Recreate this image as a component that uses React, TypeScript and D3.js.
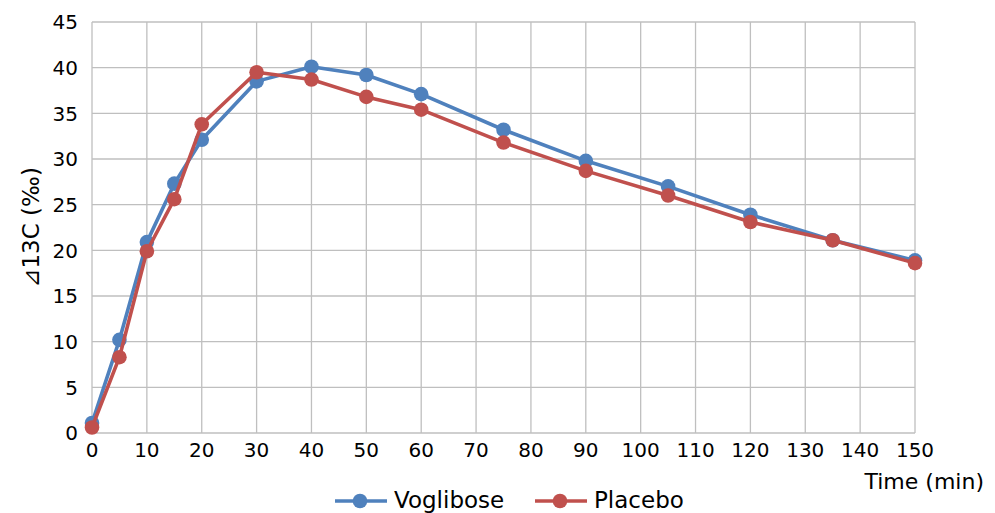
import React from 'react';
import * as d3 from 'd3';

const times = [0, 5, 10, 15, 20, 30, 40, 50, 60, 75, 90, 105, 120, 135, 150];
const voglibose = [1.1, 10.2, 20.9, 27.3, 32.1, 38.5, 40.1, 39.2, 37.1, 33.2, 29.8, 27.0, 23.9, 21.1, 18.9];
const placebo = [0.6, 8.3, 19.9, 25.6, 33.8, 39.5, 38.7, 36.8, 35.4, 31.8, 28.7, 26.0, 23.1, 21.1, 18.6];
const xTicks = d3.range(0, 151, 10);
const yTicks = d3.range(0, 46, 5);

const series = [
  { name: 'Voglibose', values: voglibose, color: '#4F81BD' },
  { name: 'Placebo', values: placebo, color: '#C0504D' },
];

const W = 995;
const H = 513;
const font = 'Verdana, "DejaVu Sans", sans-serif';

export default function App() {
  const x = d3.scaleLinear().domain([0, 150]).range([92, 915]);
  const y = d3.scaleLinear().domain([0, 45]).range([433, 22]);

  const line = d3.line<number>()
    .x((_, i) => x(times[i]))
    .y((d) => y(d));

  return (
    <svg width={W} height={H} style={{ position: 'absolute', left: 0, top: 0, background: '#fff' }} fontFamily={font}>
      {/* grid */}
      <g stroke="#bfbfbf" strokeWidth={1.3}>
        {xTicks.map((t) => (
          <line key={'x' + t} x1={x(t)} x2={x(t)} y1={y(45)} y2={y(0)} />
        ))}
        {yTicks.map((t) => (
          <line key={'y' + t} x1={x(0)} x2={x(150)} y1={y(t)} y2={y(t)} />
        ))}
      </g>

      {/* tick labels */}
      <g fontSize={20} fill="#000">
        {yTicks.map((t) => (
          <text key={'yl' + t} x={78} y={y(t)} dy="0.36em" textAnchor="end">{t}</text>
        ))}
        {xTicks.map((t) => (
          <text key={'xl' + t} x={x(t)} y={457} textAnchor="middle">{t}</text>
        ))}
      </g>

      {/* axis titles */}
      <text x={984} y={489} fontSize={22} textAnchor="end">Time (min)</text>
      <text transform={`translate(39,${y(22.5)}) rotate(-90)`} fontSize={23} textAnchor="middle">⊿13C (‰)</text>

      {/* series */}
      {series.map((s) => (
        <g key={s.name}>
          <path d={line(s.values) || undefined} fill="none" stroke={s.color} strokeWidth={3.6} strokeLinejoin="round" />
          {s.values.map((v, i) => (
            <circle key={i} cx={x(times[i])} cy={y(v)} r={7.3} fill={s.color} />
          ))}
        </g>
      ))}

      {/* legend */}
      {series.map((s, i) => {
        const lx = 335 + i * 200;
        return (
          <g key={'lg' + s.name}>
            <line x1={lx} x2={lx + 52} y1={501} y2={501} stroke={s.color} strokeWidth={3.6} />
            <circle cx={lx + 25} cy={501} r={7.3} fill={s.color} />
            <text x={lx + 59} y={508} fontSize={23}>{s.name}</text>
          </g>
        );
      })}
    </svg>
  );
}
